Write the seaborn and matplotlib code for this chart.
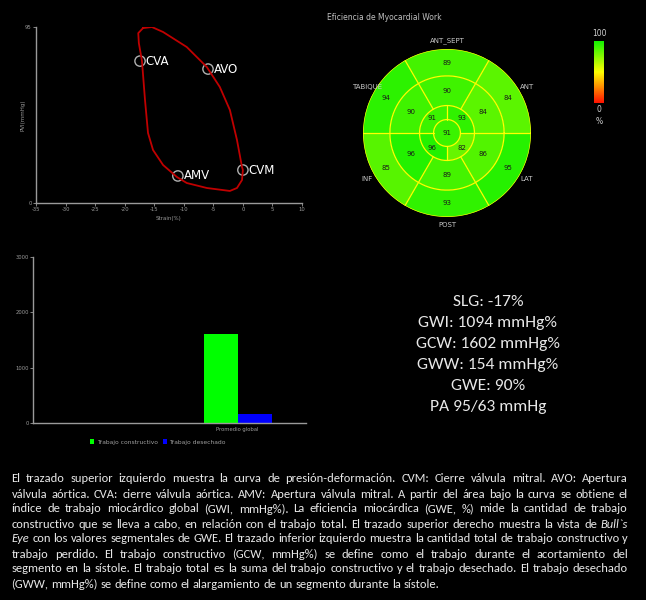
import numpy as np
import pandas as pd
import seaborn as sns
import matplotlib.pyplot as plt
from matplotlib import font_manager
from matplotlib.colors import LinearSegmentedColormap, Normalize
from matplotlib.cm import ScalarMappable

# 1 Curva presion-deformacion (strain %, presion mmHg)
strain = [-16.9, -15.4, -13.5, -9.5, -6.1, -3.9, -2.2, -1.0, -0.15, 0.0, -0.15,
          -1.0, -2.2, -6.1, -9.5, -11.15, -13.5, -15.2, -16.05, -16.56, -17.07,
          -17.6, -17.7]
pressure = [94.4, 95.0, 92.3, 84.2, 73.4, 62.6, 50.2, 34.0, 19.4, 17.8, 12.4,
            8.1, 6.5, 8.1, 10.8, 14.0, 20.5, 28.6, 37.8, 55.6, 76.6, 86.3, 91.7]
event_names = ['CVA', 'AVO', 'CVM', 'AMV']
event_strain = [-17.4, -5.9, 0.0, -11.0]
event_pressure = [76.6, 72.3, 17.8, 14.6]

# 2 Bull's eye (GWE por segmento)
six_angles = [30, 90, 150, 210, 270, 330]
basal_values = [84, 89, 94, 85, 93, 95]
mid_values = [84, 90, 90, 96, 89, 86]
apical_angles = [45, 135, 225, 315]
apical_values = [93, 91, 96, 82]
apex_value = 91
wall_names = ['ANT', 'ANT_SEPT', 'TABIQUE', 'INF', 'POST', 'LAT']

# 3 Trabajo constructivo / desechado
bar_category = ['Promedio global', 'Promedio global']
bar_series = ['Trabajo constructivo', 'Trabajo desechado']
bar_values = [1602, 154]

summary_lines = ['SLG: -17%', 'GWI: 1094 mmHg%', 'GCW: 1602 mmHg%',
                 'GWW: 154 mmHg%', 'GWE: 90%', 'PA 95/63 mmHg']

paragraph_lines = [
    'El trazado superior izquierdo muestra la curva de presión-deformación. CVM: Cierre válvula mitral. AVO: Apertura',
    'válvula aórtica. CVA: cierre válvula aórtica. AMV: Apertura válvula mitral. A partir del área bajo la curva se obtiene el',
    'índice de trabajo miocárdico global (GWI, mmHg%). La eficiencia miocárdica (GWE, %) mide la cantidad de trabajo',
    'constructivo que se lleva a cabo, en relación con el trabajo total. El trazado superior derecho muestra la vista de *Bull`s*',
    '*Eye* con los valores segmentales de GWE. El trazado inferior izquierdo muestra la cantidad total de trabajo constructivo y',
    'trabajo perdido. El trabajo constructivo (GCW, mmHg%) se define como el trabajo durante el acortamiento del',
    'segmento en la sístole. El trabajo total es la suma del trabajo constructivo y el trabajo desechado. El trabajo desechado',
    '(GWW, mmHg%) se define como el alargamiento de un segmento durante la sístole.',
]

sns.set_theme(style='dark', rc={'figure.facecolor': 'black', 'axes.facecolor': 'black',
                                'savefig.facecolor': 'black', 'axes.edgecolor': '#9a9a9a',
                                'xtick.color': '#9a9a9a', 'ytick.color': '#9a9a9a'})
plt.rcParams['font.family'] = ['DejaVu Sans']

installed = {f.name for f in font_manager.fontManager.ttflist}
text_font = 'Carlito' if 'Carlito' in installed else 'Lato'

W, H = 646, 600
fig = plt.figure(figsize=(W / 100, H / 100), dpi=100)


def box(x0, y0, x1, y1):
    return [x0 / W, 1 - y1 / H, (x1 - x0) / W, (y1 - y0) / H]


def style_axis(ax):
    for s in ['top', 'right']:
        ax.spines[s].set_visible(False)
    for s in ['left', 'bottom']:
        ax.spines[s].set_color('#9a9a9a')
        ax.spines[s].set_linewidth(1)
    ax.tick_params(labelsize=3.8, colors='#9a9a9a', length=2, width=0.6, pad=1,
                   bottom=True, left=True)
    ax.grid(False)


# 4 Curva presion-deformacion
ax1 = fig.add_axes(box(36, 27, 302, 203))
df_loop = pd.DataFrame({'strain': strain + [strain[0]], 'pressure': pressure + [pressure[0]]})
sns.lineplot(data=df_loop, x='strain', y='pressure', sort=False, estimator=None,
             color='#c00000', lw=1.3, ax=ax1)
sns.scatterplot(x=event_strain, y=event_pressure, s=55, ax=ax1)
pts = ax1.collections[-1]
pts.set_facecolor('none')
pts.set_edgecolor('#b0b0b0')
pts.set_linewidth(1.0)
for name, sx, py in zip(event_names, event_strain, event_pressure):
    ax1.annotate(name, (sx, py), xytext=(4, 0), textcoords='offset points',
                 color='white', fontsize=8.5, va='center', ha='left')
ax1.set_xlim(-35, 10)
ax1.set_ylim(0, 95)
ax1.set_xticks(range(-35, 11, 5))
ax1.set_xticklabels([str(v) for v in range(-35, 11, 5)])
ax1.set_yticks([0, 95])
ax1.set_xlabel('Strain(%)', fontsize=4, color='#9a9a9a', labelpad=3)
ax1.set_ylabel('PVI(mmHg)', fontsize=4, color='#9a9a9a', labelpad=0)
style_axis(ax1)

# 5 Bull's eye
cmap = LinearSegmentedColormap.from_list('gwe', ['#ff1000', '#ffff00', '#10f000'])
norm = Normalize(0, 100)
r_apex, r_apical, r_mid = 0.16, 0.327, 0.68
ax2 = fig.add_axes(box(363, 49, 531, 217), projection='polar')
ax2.set_facecolor('black')
ax2.bar(np.deg2rad(six_angles), 1 - r_mid, width=np.deg2rad(60), bottom=r_mid,
        color=cmap(norm(basal_values)), linewidth=0)
ax2.bar(np.deg2rad(six_angles), r_mid - r_apical, width=np.deg2rad(60), bottom=r_apical,
        color=cmap(norm(mid_values)), linewidth=0)
ax2.bar(np.deg2rad(apical_angles), r_apical - r_apex, width=np.deg2rad(90), bottom=r_apex,
        color=cmap(norm(apical_values)), linewidth=0)
ax2.bar(0, r_apex, width=2 * np.pi, bottom=0, color=cmap(norm(apex_value)), linewidth=0)
theta = np.linspace(0, 2 * np.pi, 361)
for r in [r_apex, r_apical, r_mid, 1.0]:
    ax2.plot(theta, np.full_like(theta, r), color='#ffff00', lw=0.9)
for a in range(0, 360, 60):
    ax2.plot([np.deg2rad(a)] * 2, [r_apical, 1.0], color='#ffff00', lw=0.9)
for a in range(0, 360, 90):
    ax2.plot([np.deg2rad(a)] * 2, [r_apex, r_apical], color='#ffff00', lw=0.9)
for a, vb, vm in zip(six_angles, basal_values, mid_values):
    ax2.text(np.deg2rad(a), 0.835, str(vb), fontsize=5, ha='center', va='center', color='#1a1a1a')
    ax2.text(np.deg2rad(a), 0.5, str(vm), fontsize=5, ha='center', va='center', color='#1a1a1a')
for a, v in zip(apical_angles, apical_values):
    ax2.text(np.deg2rad(a), 0.245, str(v), fontsize=5, ha='center', va='center', color='#1a1a1a')
ax2.text(0, 0, str(apex_value), fontsize=5, ha='center', va='center', color='#1a1a1a')
for a, name in zip(six_angles, wall_names):
    ax2.text(np.deg2rad(a), 1.1, name, fontsize=5, ha='center', va='center',
             color='#c8c8c8', clip_on=False)
ax2.set_ylim(0, 1)
ax2.set_axis_off()
fig.text(327 / W, 1 - 18 / H, 'Eficiencia de Myocardial Work', fontsize=5.5,
         color='#c0c0c0', ha='left', va='center')

cax = fig.add_axes(box(594, 41, 604, 103))
cb = fig.colorbar(ScalarMappable(norm=norm, cmap=cmap), cax=cax)
cb.set_ticks([])
cb.outline.set_visible(False)
fig.text(599 / W, 1 - 34 / H, '100', fontsize=5.5, color='#d0d0d0', ha='center', va='center')
fig.text(599 / W, 1 - 110 / H, '0', fontsize=5.5, color='#d0d0d0', ha='center', va='center')
fig.text(599 / W, 1 - 121 / H, '%', fontsize=5.5, color='#d0d0d0', ha='center', va='center')

# 6 Barras de trabajo
ax3 = fig.add_axes(box(33, 257, 306, 423))
df_bar = pd.DataFrame({'categoria': bar_category, 'serie': bar_series, 'valor': bar_values})
sns.barplot(data=df_bar, x='categoria', y='valor', hue='serie',
            palette=['#00ff00', '#0000ff'], width=0.5, saturation=1, linewidth=0, ax=ax3)
handles, labels = ax3.get_legend_handles_labels()
ax3.get_legend().remove()
fig.legend(handles, labels, loc='center', bbox_to_anchor=(158 / W, 1 - 442 / H), ncol=2,
           frameon=False, fontsize=4.3, handlelength=0.7, handleheight=0.7,
           handletextpad=0.4, columnspacing=0.8, labelcolor='#a0a0a0')
ax3.set_xlim(-1.5, 0.5)
ax3.set_ylim(0, 3000)
ax3.set_yticks([0, 1000, 2000, 3000])
ax3.set_xlabel('')
ax3.set_ylabel('')
style_axis(ax3)
ax3.set_xticks([-0.5, 0.5], minor=True)
ax3.tick_params(axis='x', which='major', length=0, pad=3)
ax3.tick_params(axis='x', which='minor', length=2, width=0.6, color='#9a9a9a')

# 7 Resumen
for i, line in enumerate(summary_lines):
    fig.text(488 / W, 1 - (302 + 21 * i) / H, line, fontsize=12.6, family=text_font,
             color='#e8e8e8', ha='center', va='center')

# 8 Texto justificado
renderer = fig.canvas.get_renderer()
x_left, x_right = 11.5, 628
text_w = x_right - x_left


def measure(word, size, italic):
    t = fig.text(0, 0, word, fontsize=size, family=text_font,
                 style='italic' if italic else 'normal')
    w = t.get_window_extent(renderer).width
    t.remove()
    return w


def split_words(line):
    return [(w.strip('*'), w.startswith('*')) for w in line.split(' ')]


base = 10
space = measure('a a', base, False) - measure('aa', base, False)
natural = []
for line in paragraph_lines[:-1]:
    words = split_words(line)
    natural.append(sum(measure(w, base, it) for w, it in words) + space * (len(words) - 1))
size = base * text_w / max(natural) * 0.995
space = space * size / base

for i, line in enumerate(paragraph_lines):
    words = split_words(line)
    widths = [measure(w, size, it) for w, it in words]
    if i < len(paragraph_lines) - 1:
        gap = (text_w - sum(widths)) / (len(words) - 1)
    else:
        gap = space
    x = x_left
    y = 478 + 15 * i
    for (w, it), wd in zip(words, widths):
        fig.text(x / W, 1 - y / H, w, fontsize=size, family=text_font,
                 style='italic' if it else 'normal', color='#e8e8e8',
                 ha='left', va='center_baseline')
        x += wd + gap

fig.savefig('out.png', dpi=100, facecolor='black')
